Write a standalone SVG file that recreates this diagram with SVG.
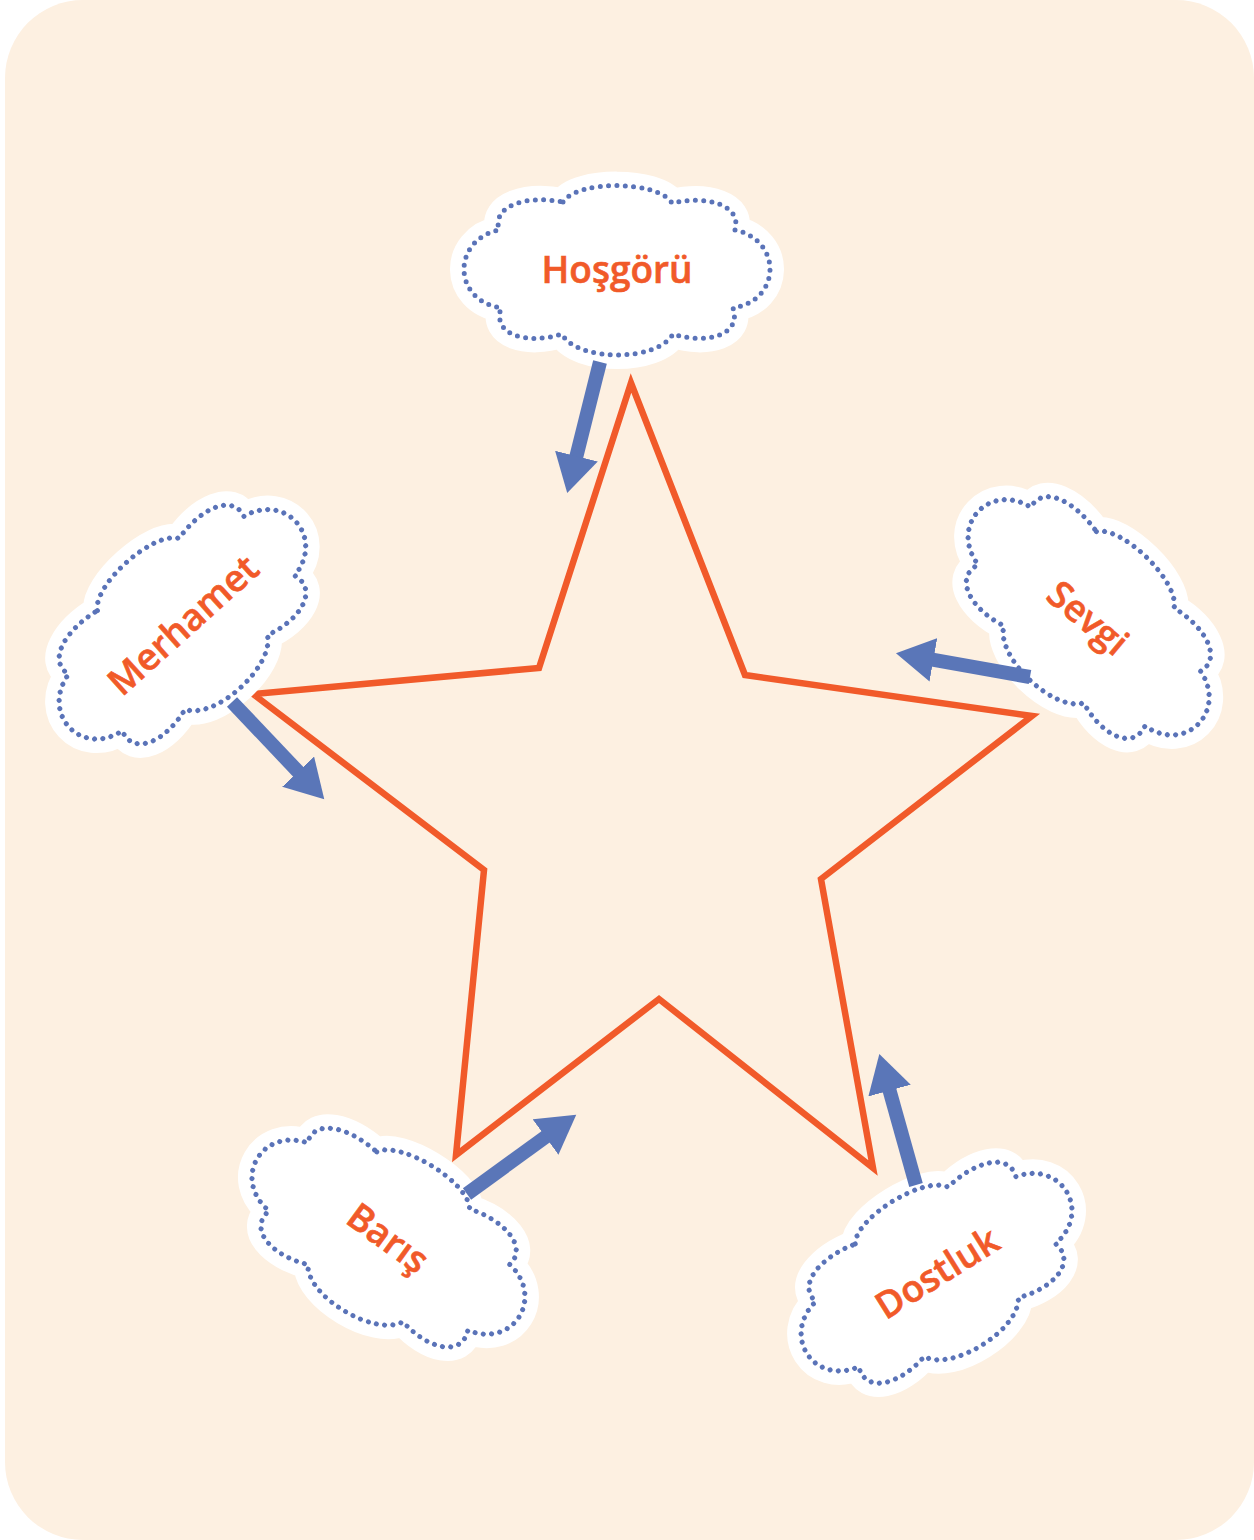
<svg xmlns="http://www.w3.org/2000/svg" xmlns:xlink="http://www.w3.org/1999/xlink" width="1254" height="1540" viewBox="0 0 1254 1540">
<style>
.halo{fill:#ffffff;stroke:#ffffff;stroke-width:28;stroke-linejoin:round}
.dots{fill:#ffffff;stroke:#5a73b8;stroke-width:5;stroke-dasharray:0 8.3;stroke-linecap:round}
.lbl{font-family:"Open Sans","Noto Sans","Liberation Sans",sans-serif;font-weight:600;font-size:37px;fill:#f15a29;stroke:#f15a29;stroke-width:0.6;text-anchor:middle}
.star{fill:none;stroke:#f15a2a;stroke-width:6.5;stroke-linejoin:miter;stroke-miterlimit:10}
.arr{stroke:#5a76b8;stroke-width:14;fill:none;marker-end:url(#ah)}
</style>
<defs>
<path id="cloud" d="M -54,-68 C -40,-90 40,-90 55,-67 C 90,-75 125,-65 118,-40 C 165,-30 165,30 116,38 C 125,65 90,75 56,64 C 40,92 -40,92 -55,64 C -90,75 -125,65 -116,38 C -165,30 -165,-30 -118,-40 C -125,-65 -90,-75 -54,-68 Z"/>
<marker id="ah" markerUnits="userSpaceOnUse" markerWidth="40" markerHeight="44" viewBox="0 0 40 44" refX="1" refY="22" orient="auto">
<path d="M0,0 L38,22 L0,44 Z" fill="#5a76b8"/>
</marker>
</defs>
<rect x="0" y="0" width="1254" height="1540" fill="#ffffff"/>
<rect x="5" y="0" width="1249" height="1540" rx="78" ry="78" fill="#fdf0e1"/>
<g id="star">
<polygon class="star" points="631,383 745,675 1032,716 821,879 873,1168 659,999 456,1155 484,870 253,694 539,668"/>
</g>
<g id="hosgoru" transform="translate(617,270)">
<use xlink:href="#cloud" href="#cloud" class="halo"/>
<use xlink:href="#cloud" href="#cloud" class="dots"/>
<text class="lbl" x="0" y="13">Hoşgörü</text>
</g>
<g id="merhamet" transform="translate(183,625) rotate(-42)">
<use xlink:href="#cloud" href="#cloud" class="halo"/>
<use xlink:href="#cloud" href="#cloud" class="dots"/>
<text class="lbl" x="0" y="13">Merhamet</text>
</g>
<g id="sevgi" transform="translate(1088,618) rotate(44)">
<use xlink:href="#cloud" href="#cloud" class="halo"/>
<use xlink:href="#cloud" href="#cloud" class="dots"/>
<text class="lbl" x="0" y="13" transform="rotate(-4)">Sevgi</text>
</g>
<g id="baris" transform="translate(388,1238) rotate(31)">
<use xlink:href="#cloud" href="#cloud" class="halo"/>
<use xlink:href="#cloud" href="#cloud" class="dots"/>
<text class="lbl" x="0" y="13" transform="rotate(5)">Barış</text>
</g>
<g id="dostluk" transform="translate(937,1273) rotate(-32)">
<use xlink:href="#cloud" href="#cloud" class="halo"/>
<use xlink:href="#cloud" href="#cloud" class="dots"/>
<text class="lbl" x="0" y="13">Dostluk</text>
</g>
<g id="connectors">
<line class="arr" x1="600" y1="362" x2="576.2" y2="457.1"/>
<line class="arr" x1="232" y1="702" x2="298.8" y2="772.4"/>
<line class="arr" x1="1030" y1="677" x2="932.4" y2="659.7"/>
<line class="arr" x1="467" y1="1194" x2="546.3" y2="1136.4"/>
<line class="arr" x1="916" y1="1185" x2="889.3" y2="1089.6"/>
</g>
</svg>
